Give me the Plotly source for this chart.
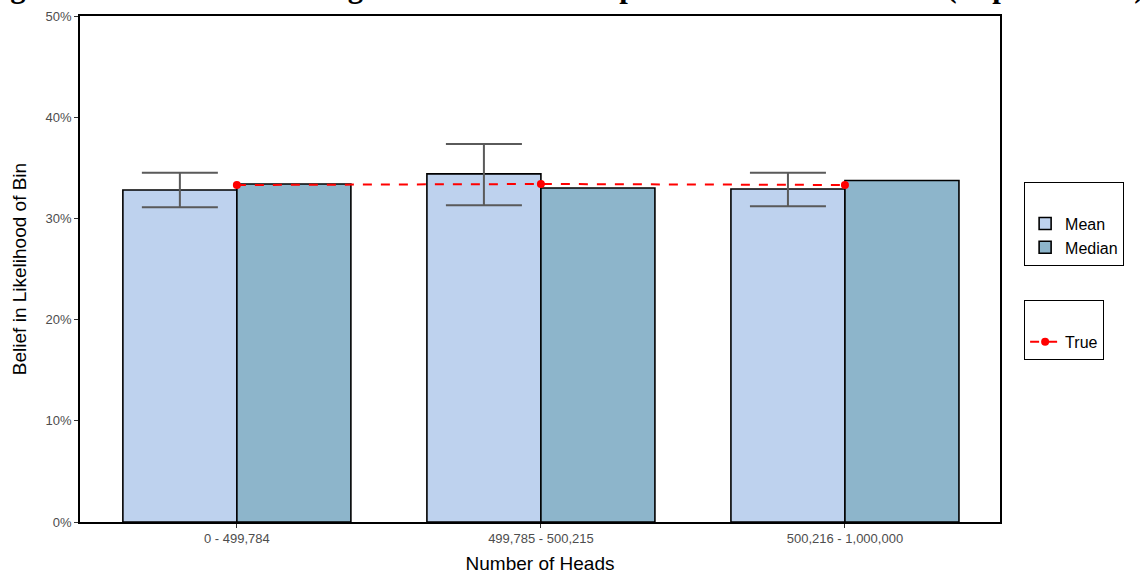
import plotly.graph_objects as go

categories = ["0 - 499,784", "499,785 - 500,215", "500,216 - 1,000,000"]
mean_vals = [32.8, 34.4, 32.9]
mean_err_hi = [34.5, 37.35, 34.5]
mean_err_lo = [31.1, 31.3, 31.2]
median_vals = [33.4, 33.0, 33.75]
true_vals = [33.3, 33.4, 33.3]
y_ticks = [0, 10, 20, 30, 40, 50]
y_tick_labels = ["0%", "10%", "20%", "30%", "40%", "50%"]

title_text = "Figure 4: Mean Belief Ratings for Each Bin Compared to the True Values (Experiment 1)"

x_idx = list(range(len(categories)))
bw = 0.375
mean_x = [i - bw / 2 for i in x_idx]
median_x = [i + bw / 2 for i in x_idx]

fig = go.Figure()
fig.add_trace(go.Bar(
    x=mean_x, y=mean_vals, width=bw, name="Mean",
    marker=dict(color="#BED2EE", line=dict(color="black", width=1.6)),
    error_y=dict(type="data", symmetric=False,
                 array=[h - m for h, m in zip(mean_err_hi, mean_vals)],
                 arrayminus=[m - l for m, l in zip(mean_vals, mean_err_lo)],
                 color="#5A5A5A", thickness=2, width=38),
    legend="legend",
))
fig.add_trace(go.Bar(
    x=median_x, y=median_vals, width=bw, name="Median",
    marker=dict(color="#8DB5CB", line=dict(color="black", width=1.6)),
    legend="legend",
))
fig.add_trace(go.Scatter(
    x=x_idx, y=true_vals, name="True", mode="lines+markers",
    line=dict(color="#FF0000", width=2, dash="dash"),
    marker=dict(color="#FF0000", size=8),
    legend="legend2",
))

fig.add_annotation(
    text=title_text, xref="paper", yref="paper", x=-0.108, y=1,
    xanchor="left", yanchor="bottom", yshift=10, showarrow=False,
    font=dict(family="Liberation Serif", size=30.6, color="black", weight="bold"),
)

leg_common = dict(xanchor="left", yanchor="middle", bordercolor="black", borderwidth=1.2,
                  bgcolor="white", font=dict(size=16, color="black"), itemwidth=30,
                  title=dict(text=" ", font=dict(size=18)))

fig.update_layout(
    width=1140, height=578,
    margin=dict(l=80, r=140, t=16, b=56, autoexpand=False),
    paper_bgcolor="white", plot_bgcolor="white",
    font=dict(family="Liberation Sans", color="black"),
    barmode="overlay",
    showlegend=True,
    legend=dict(x=1.026, y=0.589, tracegroupgap=0, **leg_common),
    legend2=dict(x=1.026, y=0.379, **leg_common),
    xaxis=dict(
        range=[-0.516, 2.51], tickmode="array", tickvals=x_idx, ticktext=categories,
        showgrid=False, zeroline=False, showline=True, linecolor="black", linewidth=1.5,
        mirror=True, ticks="outside", ticklen=4, tickcolor="#333333", automargin=False,
        tickfont=dict(size=13, color="#4D4D4D"),
        title=dict(text="Number of Heads", font=dict(size=19, color="black"), standoff=11),
    ),
    yaxis=dict(
        range=[0, 50], tickmode="array", tickvals=y_ticks, ticktext=y_tick_labels,
        showgrid=False, zeroline=False, showline=True, linecolor="black", linewidth=1.5,
        mirror=True, ticks="outside", ticklen=4, tickcolor="#333333", automargin=False,
        tickfont=dict(size=13, color="#4D4D4D"),
        title=dict(text="Belief in Likelihood of Bin", font=dict(size=19, color="black"), standoff=14),
    ),
)

fig.write_html("out.html", config={"displayModeBar": False},
               post_script="document.body.style.margin='0';")
